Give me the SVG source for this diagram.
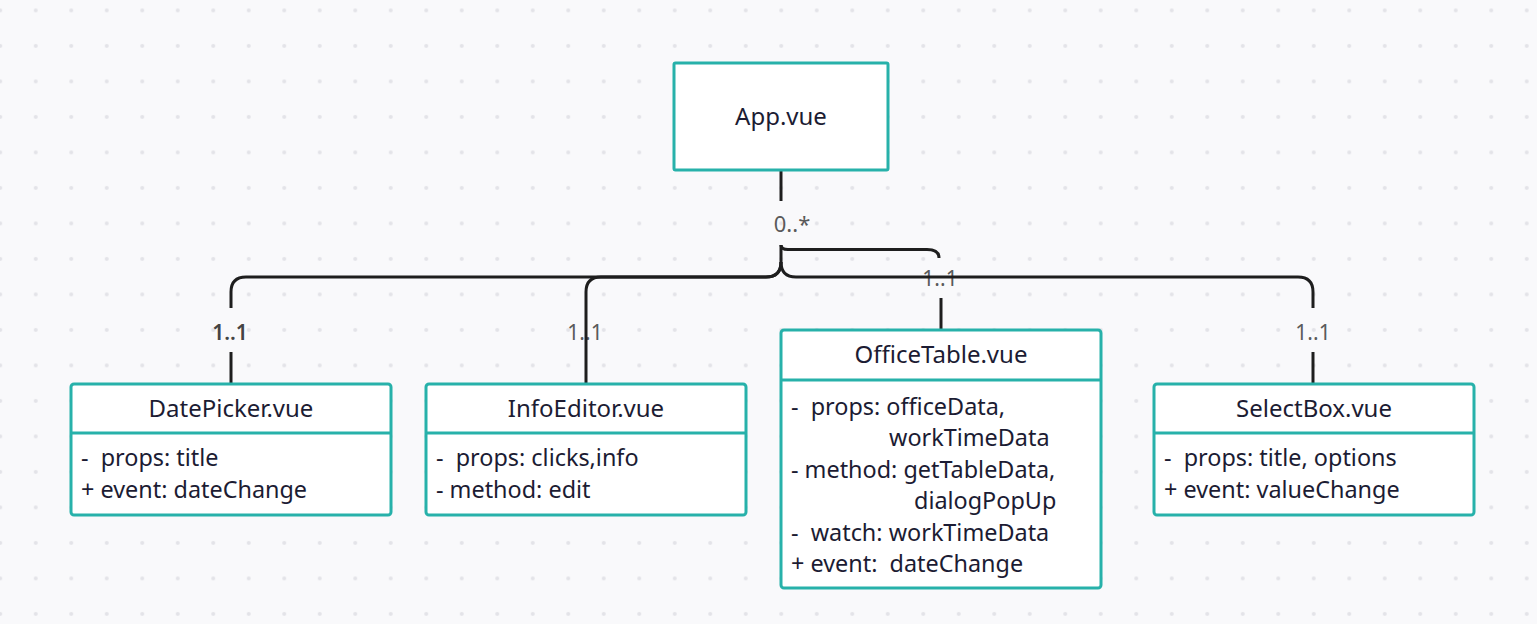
<svg xmlns="http://www.w3.org/2000/svg" width="1537" height="624" viewBox="0 0 1537 624">
<defs>
<pattern id="dots" patternUnits="userSpaceOnUse" x="-17.5" y="-7.35" width="35.5" height="35.5">
<circle cx="17.75" cy="17.75" r="2" fill="#e3e3e8"/>
</pattern>
<style>
.box{fill:#ffffff;stroke:#27b1aa;stroke-width:3}
.div{stroke:#27b1aa;stroke-width:3}
.title{font-family:"Noto Sans","Open Sans",sans-serif;font-size:24px;fill:#1c1c33;text-anchor:middle}
.row{font-family:"Noto Sans","Open Sans",sans-serif;font-size:23.4px;fill:#1c1c33;white-space:pre}
.lbl{font-family:"Noto Sans","Open Sans",sans-serif;font-size:21px;fill:#5a5a5a;text-anchor:middle}
.conn{fill:none;stroke:#1e1e1e;stroke-width:3}
</style>
</defs>
<rect width="1537" height="624" fill="#f9f9fb"/>
<rect width="1537" height="624" fill="url(#dots)"/>

<g id="connectors">
<text class="lbl" x="792" y="232" style="font-size:22px">0..*</text>
<text class="lbl" x="230" y="340" style="fill:#444;font-weight:600">1..1</text>
<text class="lbl" x="585" y="340">1..1</text>
<text class="lbl" x="940" y="286">1..1</text>
<text class="lbl" x="1313" y="340">1..1</text>
<path class="conn" d="M781 170 V201"/>
<path class="conn" d="M781 245 V262 Q781 277 766 277 H246 Q231 277 231 292 V308"/>
<path class="conn" d="M231 352 V384"/>
<path class="conn" d="M781 262 Q781 277 766 277 H601 Q586 277 586 292 V384"/>
<path class="conn" d="M781 262 Q781 277 796 277 H1298 Q1313 277 1313 292 V308"/>
<path class="conn" d="M1313 352 V384"/>
<path class="conn" d="M781 245 Q781 249.5 788 249.5 H927 Q939 249.5 939 258"/>
<path class="conn" d="M941 298 V330"/>
</g>

<g id="app">
<rect class="box" x="674" y="63" width="214" height="107" rx="1.5"/>
<text class="title" x="781" y="125">App.vue</text>
</g>

<g id="datepicker">
<rect class="box" x="71" y="384" width="320" height="131" rx="3"/>
<line class="div" x1="71" y1="433" x2="391" y2="433"/>
<text class="title" x="231" y="417">DatePicker.vue</text>
<text class="row" x="81" y="466">-  props: title</text>
<text class="row" x="81" y="498">+ event: dateChange</text>
</g>

<g id="infoeditor">
<rect class="box" x="426" y="384" width="320" height="131" rx="3"/>
<line class="div" x1="426" y1="433" x2="746" y2="433"/>
<text class="title" x="586" y="417">InfoEditor.vue</text>
<text class="row" x="436" y="466">-  props: clicks,info</text>
<text class="row" x="436" y="498">- method: edit</text>
</g>

<g id="officetable">
<rect class="box" x="781" y="330" width="320" height="258" rx="3"/>
<line class="div" x1="781" y1="380" x2="1101" y2="380"/>
<text class="title" x="941" y="363">OfficeTable.vue</text>
<text class="row" x="791" y="415">-  props: officeData,</text>
<text class="row" x="889" y="446">workTimeData</text>
<text class="row" x="791" y="477.5">- method: getTableData,</text>
<text class="row" x="914" y="509">dialogPopUp</text>
<text class="row" x="791" y="540.5">-  watch: workTimeData</text>
<text class="row" x="791" y="572">+ event:  dateChange</text>
</g>

<g id="selectbox">
<rect class="box" x="1154" y="384" width="320" height="131" rx="3"/>
<line class="div" x1="1154" y1="433" x2="1474" y2="433"/>
<text class="title" x="1314" y="417">SelectBox.vue</text>
<text class="row" x="1164" y="466">-  props: title, options</text>
<text class="row" x="1164" y="498">+ event: valueChange</text>
</g>
</svg>
